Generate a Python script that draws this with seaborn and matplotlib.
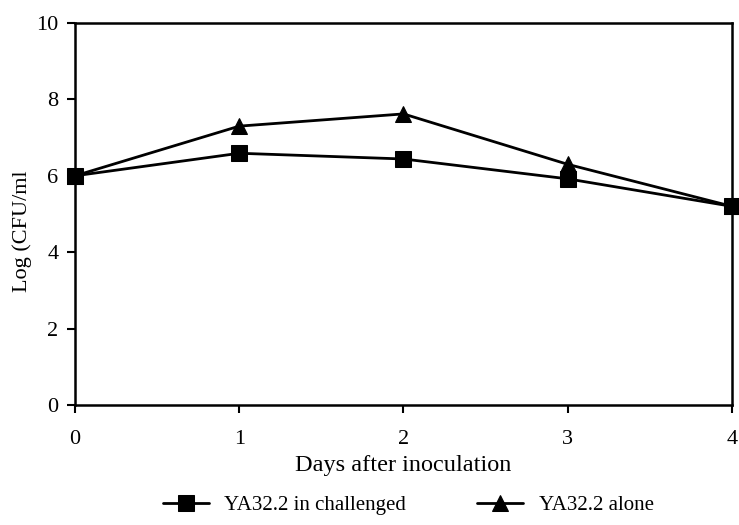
import matplotlib
matplotlib.use("Agg")
import matplotlib.pyplot as plt
import seaborn as sns
import pandas as pd

days = [0, 1, 2, 3, 4]
challenged = [6.0, 6.59, 6.44, 5.92, 5.2]
alone = [6.0, 7.3, 7.62, 6.3, 5.2]
series_names = ["YA32.2 in challenged", "YA32.2 alone"]

df = pd.concat([
    pd.DataFrame({"day": days, "log": challenged, "series": series_names[0]}),
    pd.DataFrame({"day": days, "log": alone, "series": series_names[1]}),
])

sns.set_theme(style="white")
plt.rcParams['font.family'] = ['Liberation Serif', 'DejaVu Serif']
plt.rcParams['text.color'] = 'black'
plt.rcParams['axes.labelcolor'] = 'black'
plt.rcParams['xtick.color'] = 'black'
plt.rcParams['ytick.color'] = 'black'

fig = plt.figure(figsize=(7.39, 5.25), dpi=100)
ax = fig.add_axes([0.1015, 0.2286, 0.889, 0.7276])

sns.lineplot(data=df, x="day", y="log", style="series", hue="series",
             palette=["black", "black"], markers={series_names[0]: "s", series_names[1]: "^"},
             dashes=False, markersize=11, linewidth=2, markeredgecolor="black",
             ax=ax, legend=True, clip_on=False)

ax.set_xlim(0, 4)
ax.set_ylim(0, 10)
ax.set_xticks([0, 1, 2, 3, 4])
ax.set_yticks([0, 2, 4, 6, 8, 10])
ax.tick_params(axis="both", direction="out", length=6, width=1.5,
               labelsize=16, bottom=True, left=True, pad=6)
ax.tick_params(axis="x", pad=12)
for s in ax.spines.values():
    s.set_color("black")
    s.set_linewidth(1.8)
ax.set_xlabel("Days after inoculation", fontsize=17.5, labelpad=4)
ax.set_ylabel("Log (CFU/ml", fontsize=16)
ax.yaxis.set_label_coords(-0.065, 0.455)

handles, labels = ax.get_legend_handles_labels()
if ax.get_legend() is not None:
    ax.get_legend().remove()
fig.legend(handles, labels, loc="center left", bbox_to_anchor=(163 / 739, 1 - 505 / 525),
           bbox_transform=fig.transFigure, ncol=2, frameon=False, fontsize=15,
           handlelength=2.2, columnspacing=3.4, handletextpad=0.75,
           borderpad=0, borderaxespad=0, markerscale=1.1)

fig.savefig("out.png", dpi=100)
